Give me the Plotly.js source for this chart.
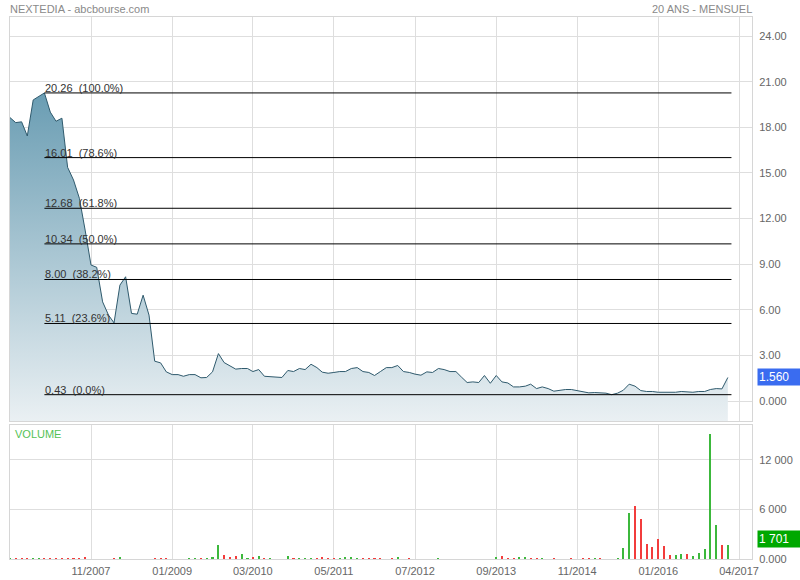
<!DOCTYPE html>
<html>
<head>
<meta charset="utf-8">
<script src="https://cdn.plot.ly/plotly-3.0.1.min.js"></script>
<style>html,body{margin:0;padding:0;background:#fff;}#chart{width:800px;height:580px;}</style>
</head>
<body>
<div id="chart"></div>
<script>
// ---- Data (monthly, starting 2006-09) ----
const startMonth = '2006-09';
const price = [
 18.64,18.31,18.36,17.43,19.80,20.02,20.26,19.00,18.40,18.60,
 15.37,14.54,13.33,11.25,8.95,8.80,6.53,5.66,5.15,7.63,
 8.18,5.77,5.72,6.97,5.66,2.63,2.52,1.93,1.75,1.75,
 1.64,1.75,1.75,1.54,1.56,1.93,3.13,2.54,2.32,2.11,
 2.15,2.15,1.95,2.08,1.64,1.62,1.58,1.56,2.02,1.95,
 2.15,2.08,2.43,2.21,1.91,1.84,1.89,1.95,1.95,2.15,
 2.21,1.95,1.89,1.69,1.95,2.21,2.21,2.35,1.95,1.89,
 1.78,1.71,1.93,1.89,2.15,2.08,1.95,1.95,1.60,1.23,
 1.27,1.23,1.69,1.18,1.69,1.27,1.20,0.94,0.94,0.99,
 1.12,0.83,0.94,0.83,0.66,0.72,0.77,0.77,0.68,0.59,
 0.55,0.57,0.57,0.53,0.43,0.53,0.72,1.12,0.99,0.70,
 0.64,0.64,0.59,0.59,0.59,0.59,0.64,0.59,0.59,0.64,
 0.64,0.77,0.83,0.81,1.56
];
const volume = [
 160,120,80,120,160,160,80,120,80,80,
 120,80,100,280,60,60,60,60,80,200,
 60,40,40,40,40,80,80,80,40,40,
 40,80,80,80,80,200,1740,485,200,320,
 600,160,240,400,120,80,60,60,320,80,
 80,80,80,80,280,120,80,120,280,280,
 80,80,80,80,80,60,120,240,60,80,
 60,60,60,60,80,60,60,60,60,60,
 60,60,60,60,200,400,120,80,200,240,
 80,120,80,60,80,60,60,80,60,80,
 80,160,80,40,40,80,1370,5540,6420,4810,
 1860,1410,2420,1535,525,525,565,565,365,685,
 1170,15070,4160,1655,1701
];
// 1 = up month (green), 0 = down month (red)
const volumeUp = [
 1,0,0,0,1,1,0,0,0,0,
 0,0,0,0,0,0,0,0,0,1,
 1,0,0,1,0,0,0,0,0,1,
 0,1,1,0,1,1,1,0,0,0,
 1,1,0,1,0,1,0,0,1,0,
 1,1,1,0,0,0,0,1,1,1,
 1,0,0,0,0,0,0,1,0,0,
 0,0,1,0,1,0,0,0,0,0,
 0,0,1,0,1,0,0,0,1,1,
 0,0,1,0,0,1,0,0,0,0,
 0,1,0,0,0,1,1,1,0,0,
 0,0,0,0,0,1,1,0,1,1,
 1,1,1,0,1
];
const fibLevels = [20.26, 16.01, 12.68, 10.34, 8.00, 5.11, 0.43];
const fibPct = ['100.0', '78.6', '61.8', '50.0', '38.2', '23.6', '0.0'];
const fibEnd = '2017-01-20';
const xTickVals = ['2007-11-01','2009-01-01','2010-03-01','2011-05-01','2012-07-01','2013-09-01','2014-11-01','2016-01-01','2017-03-01'];
const xTickText = ['11/2007','01/2009','03/2010','05/2011','07/2012','09/2013','11/2014','01/2016','04/2017'];
const priceTickVals = [0,3,6,9,12,15,18,21,24];
const priceTickText = ['0.000','3.00','6.00','9.00','12.00','15.00','18.00','21.00','24.00'];
const volTickVals = [0,6000,12000];
const volTickText = ['0.000','6 000','12 000'];
const lastPriceLabel = '1.560';
const lastVolumeLabel = '1 701';

// ---- Build ----
const months = [];
{
  let [yy, mm] = startMonth.split('-').map(Number);
  for (let i = 0; i < price.length; i++) {
    months.push(yy + '-' + String(mm).padStart(2, '0') + '-01');
    mm++; if (mm > 12) { mm = 1; yy++; }
  }
}
const yMin = -1.3, yMax = 25.25;
const FONT = 'Liberation Sans, Arial, sans-serif';
const peakIdx = price.indexOf(Math.max(...price));
const lastIdx = price.length - 1;

const base = {
  x: months, y: months.map(() => yMin), type: 'scatter', mode: 'lines',
  line: {width: 0}, hoverinfo: 'skip', showlegend: false, xaxis: 'x', yaxis: 'y'
};
const priceTrace = {
  x: months, y: price, type: 'scatter', mode: 'lines', fill: 'tonexty',
  fillcolor: '#a9c6d3',
  fillgradient: {type: 'vertical', start: yMin, stop: 20.26,
    colorscale: [[0, '#eaf0f3'], [1, '#6a9db3']]},
  line: {color: '#2f5a6d', width: 1}, showlegend: false, xaxis: 'x', yaxis: 'y'
};
const volTrace = {
  x: months, y: volume, type: 'bar',
  marker: {color: volumeUp.map(u => u ? '#3cb83c' : '#f23c3c')},
  width: 9.5e8, showlegend: false, xaxis: 'x', yaxis: 'y2'
};

const shapes = fibLevels.map(l => ({
  type: 'line', xref: 'x', yref: 'y', x0: months[peakIdx], x1: fibEnd,
  y0: l, y1: l, line: {color: '#000', width: 1}
}));

const annotations = fibLevels.map((l, i) => ({
  x: months[peakIdx], y: l, xref: 'x', yref: 'y', xanchor: 'left', yanchor: 'bottom',
  text: l.toFixed(2) + '\u00a0\u00a0(' + fibPct[i] + '%)', showarrow: false,
  font: {family: FONT, size: 11, color: '#333'}, yshift: -3, xshift: -1
}));
annotations.push(
  {x: 0, y: 1, xref: 'paper', yref: 'paper', xanchor: 'left', yanchor: 'bottom',
   text: 'NEXTEDIA - abcbourse.com', showarrow: false, yshift: 0, xshift: -2,
   font: {family: FONT, size: 11, color: '#8a8a8a'}},
  {x: 1, y: 1, xref: 'paper', yref: 'paper', xanchor: 'right', yanchor: 'bottom',
   text: '20 ANS - MENSUEL', showarrow: false, yshift: 0, xshift: 2,
   font: {family: FONT, size: 11, color: '#8a8a8a'}},
  {x: 0, y: 16200, xref: 'paper', yref: 'y2', xanchor: 'left', yanchor: 'top',
   text: 'VOLUME', showarrow: false, xshift: 3, yshift: -1,
   font: {family: FONT, size: 11, color: '#55c255'}},
  {x: 1, y: price[lastIdx], xref: 'paper', yref: 'y', xanchor: 'left', yanchor: 'middle',
   text: lastPriceLabel, showarrow: false, xshift: 5, bgcolor: '#3a6cf0', width: 40, align: 'left',
   borderpad: 1, font: {family: FONT, size: 12, color: '#fff'}},
  {x: 1, y: volume[lastIdx], xref: 'paper', yref: 'y2', xanchor: 'left', yanchor: 'middle',
   text: lastVolumeLabel, showarrow: false, xshift: 5, yshift: 6, bgcolor: '#00a800', width: 40, align: 'left',
   borderpad: 1, font: {family: FONT, size: 12, color: '#fff'}}
);

const gridC = '#dedede';
const layout = {
  width: 800, height: 580,
  margin: {l: 10, r: 48, t: 17, b: 21},
  paper_bgcolor: '#fff', plot_bgcolor: '#fff',
  showlegend: false, bargap: 0,
  font: {family: FONT, size: 11, color: '#666'},
  xaxis: {
    type: 'date', range: ['2006-09-01', '2017-05-08'], anchor: 'y2',
    tickvals: xTickVals, ticktext: xTickText, showgrid: true, gridcolor: gridC,
    showline: true, linecolor: '#d6d6d6', mirror: 'all', zeroline: false,
    ticks: 'outside', ticklen: 2, tickcolor: 'rgba(0,0,0,0)',
    tickfont: {family: FONT, size: 11, color: '#666'}, fixedrange: true
  },
  yaxis: {
    domain: [0.2546, 1], range: [yMin, yMax], side: 'right',
    tickvals: priceTickVals, ticktext: priceTickText, showgrid: true, gridcolor: gridC,
    showline: true, linecolor: '#d6d6d6', mirror: true, zeroline: false,
    ticks: 'outside', ticklen: 4, tickcolor: 'rgba(0,0,0,0)',
    tickfont: {family: FONT, size: 11, color: '#666'}
  },
  yaxis2: {
    domain: [0, 0.2472], range: [0, 16200], side: 'right',
    tickvals: volTickVals, ticktext: volTickText, showgrid: true, gridcolor: gridC,
    showline: true, linecolor: '#d6d6d6', mirror: true, zeroline: false,
    ticks: 'outside', ticklen: 4, tickcolor: 'rgba(0,0,0,0)',
    tickfont: {family: FONT, size: 11, color: '#666'}
  },
  shapes: shapes,
  annotations: annotations
};

Plotly.newPlot('chart', [base, priceTrace, volTrace], layout, {displayModeBar: false, staticPlot: true});
</script>
</body>
</html>
